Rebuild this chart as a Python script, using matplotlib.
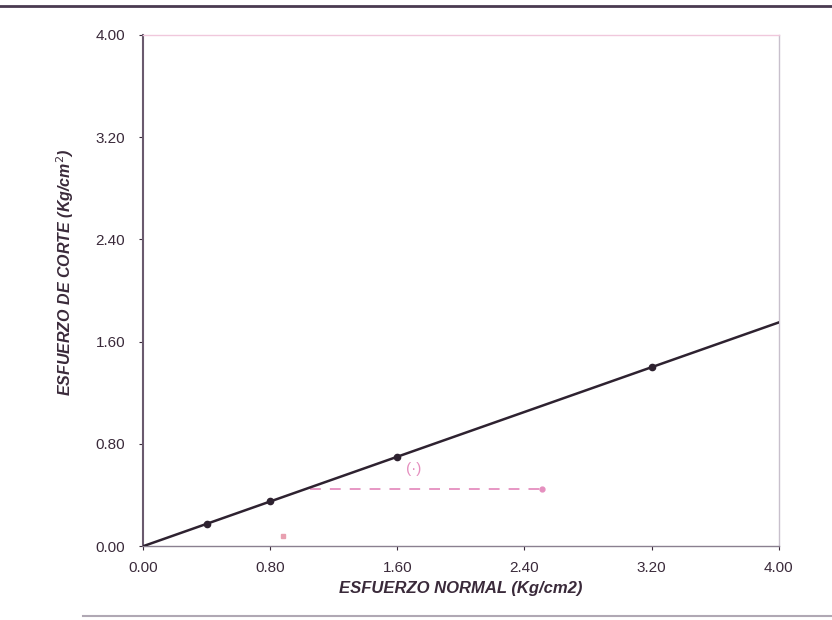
import numpy as np
import matplotlib
matplotlib.use("Agg")
import matplotlib.pyplot as plt
from matplotlib.lines import Line2D

plt.rcParams['font.family'] = ['Liberation Sans', 'DejaVu Sans']

# ensayo de corte directo
normal = [0.40, 0.80, 1.60, 3.20]
corte = [0.17, 0.35, 0.70, 1.40]
envolvente_x = [0.00, 4.00]
envolvente_y = [0.00, 1.75]
guia_x = [1.05, 2.51]
guia_y = [0.445, 0.445]
ticks = [0.00, 0.80, 1.60, 2.40, 3.20, 4.00]

txt = '#3a2a3a'

fig = plt.figure(figsize=(8.32, 6.2), dpi=100, facecolor='white')
ax = fig.add_axes([0.172, 0.119, 0.764, 0.825])

ax.plot(envolvente_x, envolvente_y, color='#2e2230', lw=1.8, zorder=3)
ax.plot(normal, corte, 'o', color='#2e2230', ms=4.5, zorder=4)
ax.plot(guia_x, guia_y, color='#e58fbf', lw=1.3, ls=(0, (6, 5)), zorder=2)
ax.plot(guia_x[-1], guia_y[-1], 'o', color='#e58fbf', ms=3.5, zorder=2)
ax.text(1.70, 0.60, "(·)", color='#e58fbf', fontsize=11, ha='center', va='center')
ax.plot(0.88, 0.08, 's', color='#e8a0b0', ms=2.5)

ax.set_xlim(0, 4)
ax.set_ylim(0, 4)
ax.set_xticks(ticks)
ax.set_yticks(ticks)
ax.set_xticklabels([f"{t:.2f}" for t in ticks])
ax.set_yticklabels([f"{t:.2f}" for t in ticks])
ax.tick_params(axis='both', colors=txt, labelsize=11, length=3, direction='out')
ax.tick_params(axis='x', pad=8)
ax.tick_params(axis='y', pad=10)

ax.spines['left'].set_color('#6a5a6e')
ax.spines['bottom'].set_color('#8a8090')
ax.spines['top'].set_color('#f0c8dc')
ax.spines['right'].set_color('#c8c0cc')
for s in ax.spines.values():
    s.set_linewidth(1.0)
ax.spines['left'].set_linewidth(1.5)

ax.set_xlabel("ESFUERZO NORMAL (Kg/cm2)", fontsize=12, fontweight='bold',
              fontstyle='italic', color=txt, labelpad=4)
ax.set_ylabel("ESFUERZO DE CORTE (Kg/cm$^{2}$)", fontsize=11.5, fontweight='bold',
              fontstyle='italic', color=txt)
ax.yaxis.set_label_coords(-0.106, 0.535)

# marco del escaneo
fig.add_artist(Line2D([0, 1], [0.991, 0.991], transform=fig.transFigure,
                      color='#4a3a50', lw=2.0))
fig.add_artist(Line2D([0.1, 1], [0.006, 0.006], transform=fig.transFigure,
                      color='#b0a8b4', lw=1.5))

fig.savefig("out.png", dpi=100, facecolor='white')
